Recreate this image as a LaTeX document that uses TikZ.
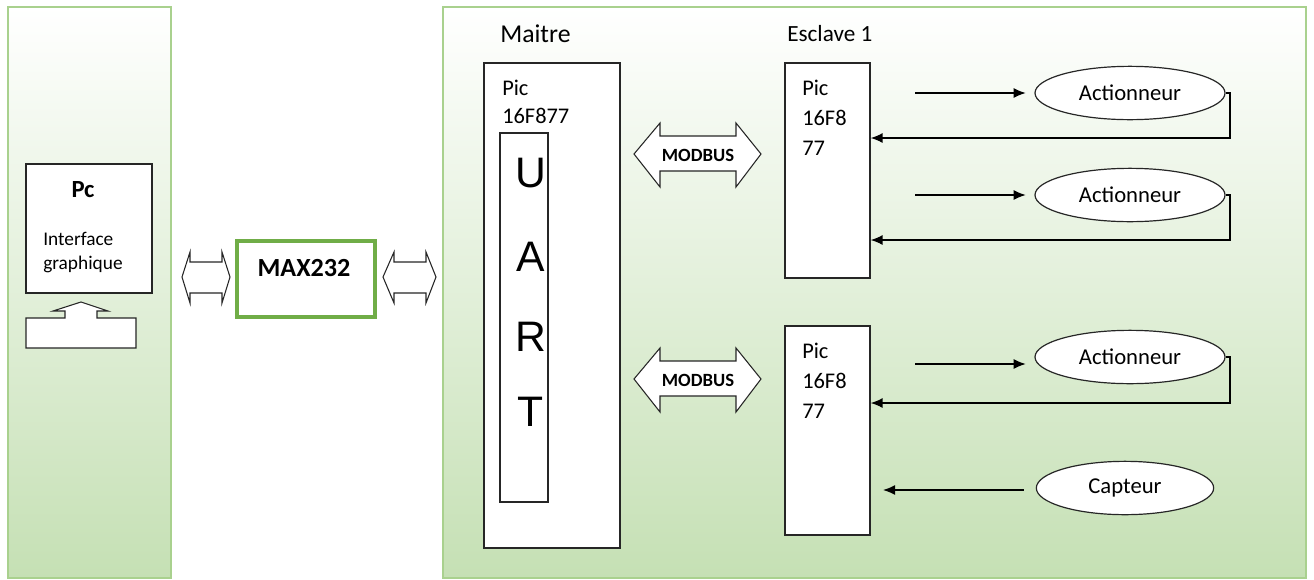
\documentclass[tikz,border=0pt]{standalone}
\usepackage{fontspec}
\setmainfont{Carlito}
\newfontfamily\uartfont{Liberation Sans}
\usetikzlibrary{fit,shapes.geometric,arrows.meta}
\definecolor{panelborder}{RGB}{169,209,142}
\definecolor{panelbottom}{RGB}{197,224,180}
\definecolor{maxgreen}{RGB}{112,173,71}
\begin{document}
\begin{tikzpicture}[x=0.75pt,y=-0.75pt,
  panel/.style={draw=panelborder, line width=2pt, top color=white, bottom color=panelbottom, inner sep=0pt},
  box/.style={draw=black!85, line width=0.9pt, fill=white, inner sep=0pt},
  blockarrow/.style={draw=black!85, line width=0.8pt, fill=white},
  txt/.style={inner sep=0pt, font=\fontsize{16.8}{18}\selectfont},
  ltxt/.style={txt, anchor=west},
  bus/.style={inner sep=0pt, font=\bfseries\fontsize{14}{15}\selectfont},
  uart/.style={inner sep=0pt, font=\uartfont\fontsize{32}{34}\selectfont},
  act/.style={ellipse, draw=black!85, line width=0.9pt, fill=white, minimum width=142.5pt, minimum height=40pt, inner sep=0pt, font=\fontsize{17}{18}\selectfont},
  arr/.style={draw=black, line width=1.1pt, -{Latex[length=9pt,width=7.5pt]}}
]
\useasboundingbox (0,0) rectangle (1314,579);

% panels
\node[panel, fit={(8,7)(171,578)}] (leftpanel) {};
\node[panel, fit={(443,7)(1306,578)}] (rightpanel) {};

% PC
\node[box, fit={(26,164)(152,293)}] (pc) {};
\node[inner sep=0pt, font=\bfseries\fontsize{18.5}{20}\selectfont] (pclabel) at (83,190) {Pc};
\node[inner sep=0pt, anchor=west, align=left, font=\fontsize{14.5}{18}\selectfont] (pcsub) at (43,253) {Interface\\graphique};
\draw[blockarrow] (26,348) -- (136,348) -- (136,318) -- (97,318) -- (97,311) -- (108,311) -- (81,302) -- (53,311) -- (65,311) -- (65,318) -- (26,318) -- cycle;

% MAX232
\node[draw=maxgreen, line width=3pt, fill=white, inner sep=0pt, fit={(237,241)(375,317)}] (max) {};
\node[inner sep=0pt, font=\bfseries\fontsize{19.6}{21}\selectfont] (maxlabel) at (304,268) {MAX232};

% double arrows PC-MAX-Maitre
\draw[blockarrow] (182,277) -- (190,252) -- (190,262) -- (222,262) -- (222,252) -- (230,277) -- (222,303) -- (222,293) -- (190,293) -- (190,303) -- cycle;
\draw[blockarrow] (383,277) -- (394,252) -- (394,262) -- (426,262) -- (426,252) -- (436,277) -- (426,303) -- (426,293) -- (394,293) -- (394,303) -- cycle;

% Maitre
\node[txt, anchor=west, font=\fontsize{19.3}{21}\selectfont] (maitrelabel) at (500,34) {Maitre};
\node[box, fit={(484,63)(620,548)}] (maitre) {};
\node[ltxt] (mpic) at (502,88) {Pic};
\node[ltxt] (mref) at (502,116) {16F877};
\node[box, fit={(500,133)(548,502)}] (uartbox) {};
\node[uart] (u1) at (531,173) {U};
\node[uart] (u2) at (531,257) {A};
\node[uart] (u3) at (531,337) {R};
\node[uart] (u4) at (531,412) {T};

% MODBUS arrows
\draw[blockarrow] (634,154) -- (660,123) -- (660,136) -- (736,136) -- (736,123) -- (761,154) -- (736,187) -- (736,171) -- (660,171) -- (660,187) -- cycle;
\node[bus] (bus1) at (698,155) {MODBUS};
\draw[blockarrow] (634,379) -- (660,348) -- (660,361) -- (736,361) -- (736,348) -- (761,379) -- (736,412) -- (736,396) -- (660,396) -- (660,412) -- cycle;
\node[bus] (bus2) at (698,380) {MODBUS};

% Esclave 1
\node[txt, anchor=west, font=\fontsize{17.4}{19}\selectfont] (esclabel) at (787,34) {Esclave 1};
\node[box, fit={(785,63)(870,278)}] (slave1) {};
\node[ltxt] (s1a) at (802,88) {Pic};
\node[ltxt] (s1b) at (802,118) {16F8};
\node[ltxt] (s1c) at (802,148) {77};

\node[box, fit={(785,326)(870,535)}] (slave2) {};
\node[ltxt] (s2a) at (802,351) {Pic};
\node[ltxt] (s2b) at (802,381) {16F8};
\node[ltxt] (s2c) at (802,411) {77};

% actuators / sensor
\node[act] (a1) at (1130,93) {Actionneur};
\node[act] (a2) at (1130,195) {Actionneur};
\node[act] (a3) at (1130,357) {Actionneur};
\node[act, minimum width=133pt] (cap) at (1125,488) {Capteur};

\coordinate (o1) at (915,93);
\coordinate (o2) at (915,195);
\coordinate (o3) at (915,364);
\coordinate (r1) at (1230,138);
\coordinate (r2) at (1230,240);
\coordinate (r3) at (1230,403);
\coordinate (c1) at (883,490);

\draw[arr, shorten >=6.5pt] (o1) -- (a1.west |- o1);
\draw[arr, shorten >=6.5pt] (o2) -- (a2.west |- o2);
\draw[arr, shorten >=6.5pt] (o3) -- (a3.west |- o3);

\draw[arr] (a1.east) -| (r1) -- (slave1.east |- r1);
\draw[arr] (a2.east) -| (r2) -- (slave1.east |- r2);
\draw[arr] (a3.east) -| (r3) -- (slave2.east |- r3);

\draw[arr, shorten <=9pt] (cap.west |- c1) -- (c1);
\end{tikzpicture}
\end{document}
